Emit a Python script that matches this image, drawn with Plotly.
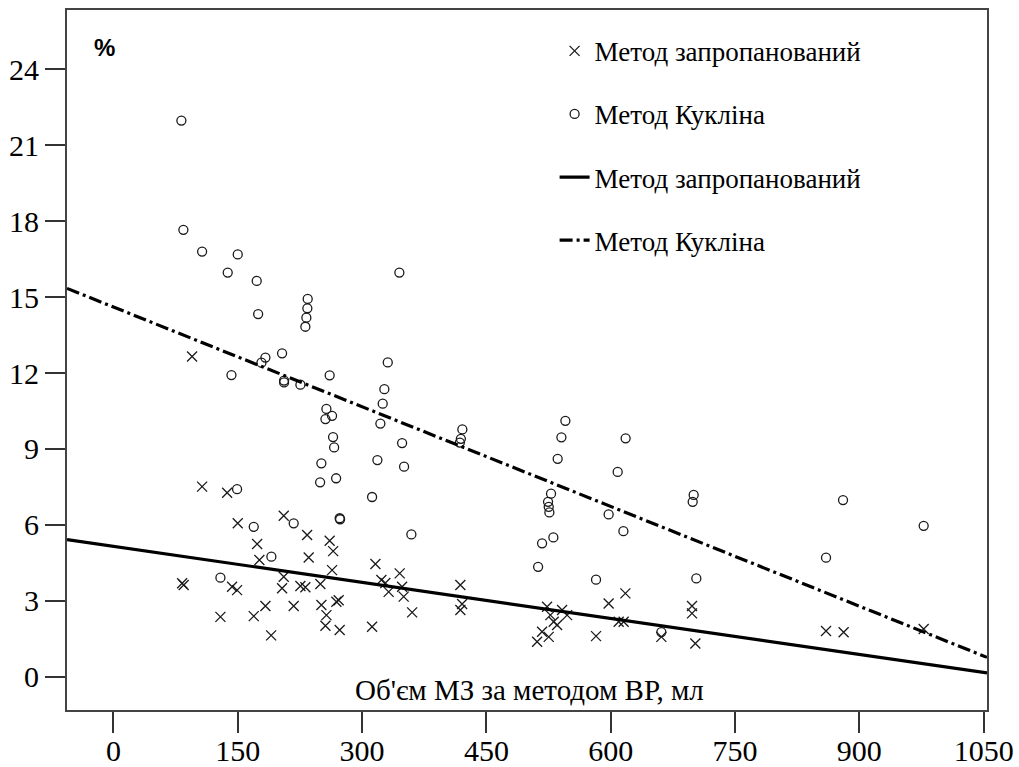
import numpy as np
import plotly.graph_objects as go

# ---- data ----
# Метод запропанований (crosses)
prop_x = [94.9, 107.0, 137.2, 150.0, 205.5, 233.7, 260.9, 265.1, 173.4, 235.6,
          176.1, 316.1, 263.8, 82.9, 84.8, 143.2, 149.2, 129.1, 169.3, 183.4,
          190.3, 205.5, 203.5, 217.5, 225.6, 231.6, 249.7, 250.9, 257.0, 255.8,
          271.8, 269.0, 273.0, 312.1, 323.3, 328.1, 332.1, 345.4, 348.3, 350.2,
          360.4, 418.6, 420.7, 418.6, 523.2, 527.2, 531.2, 535.3, 541.3, 547.4,
          517.2, 511.2, 525.2, 597.5, 617.7, 582.3, 609.6, 615.6, 661.1, 698.1,
          698.1, 702.1, 859.8, 881.0, 977.6]
prop_y = [12.65, 7.51, 7.27, 6.06, 6.36, 5.60, 5.37, 4.96, 5.24, 4.71,
          4.61, 4.45, 4.21, 3.69, 3.62, 3.55, 3.42, 2.36, 2.39, 2.79,
          1.63, 3.95, 3.49, 2.79, 3.58, 3.53, 3.66, 2.83, 2.43, 2.01,
          3.02, 2.96, 1.84, 1.97, 3.82, 3.70, 3.35, 4.08, 3.55, 3.16,
          2.54, 3.62, 2.87, 2.63, 2.76, 2.43, 2.17, 2.04, 2.63, 2.43,
          1.77, 1.38, 1.57, 2.89, 3.29, 1.60, 2.17, 2.17, 1.57, 2.79,
          2.50, 1.31, 1.80, 1.75, 1.88]

# Метод Кукліна (circles)
kuk_x = [82.0, 84.4, 107.0, 150.0, 137.9, 172.9, 174.6, 234.4, 234.0, 232.8,
         231.6, 345.0, 142.4, 183.4, 178.6, 203.5, 260.9, 205.9, 205.9, 225.6,
         257.0, 263.8, 255.8, 265.0, 266.3, 250.9, 249.4, 268.7, 312.1, 322.1,
         326.9, 324.9, 331.0, 318.5, 348.3, 350.7, 149.2, 169.3, 217.5, 190.6,
         273.0, 273.5, 129.1, 359.5, 421.0, 418.0, 419.2, 545.3, 540.5, 536.0,
         618.0, 608.4, 528.0, 524.4, 525.2, 526.0, 517.2, 530.8, 512.4, 597.5,
         615.3, 582.3, 700.1, 698.9, 703.3, 661.1, 880.3, 977.6, 859.8]
kuk_y = [21.98, 17.66, 16.80, 16.69, 15.97, 15.64, 14.33, 14.93, 14.56, 14.19,
         13.83, 15.97, 11.92, 12.61, 12.41, 12.78, 11.91, 11.70, 11.63, 11.54,
         10.58, 10.31, 10.18, 9.47, 9.06, 8.43, 7.68, 7.84, 7.10, 10.00,
         11.36, 10.79, 12.42, 8.56, 9.23, 8.30, 7.41, 5.92, 6.06, 4.74,
         6.26, 6.22, 3.91, 5.62, 9.77, 9.25, 9.40, 10.11, 9.46, 8.61,
         9.42, 8.09, 7.23, 6.91, 6.71, 6.49, 5.27, 5.50, 4.34, 6.41,
         5.75, 3.83, 7.18, 6.91, 3.88, 1.76, 6.98, 5.96, 4.70]

# fitted regression lines (intercept, slope)
prop_fit = (5.15, -0.00475)
kuk_fit = (14.61, -0.01314)

x_ticks = [0, 150, 300, 450, 600, 750, 900, 1050]
y_ticks = [0, 3, 6, 9, 12, 15, 18, 21, 24]
x_range = [-56, 1054]
y_range = [-1.32, 26.35]

label_prop = "Метод запропанований"
label_kuk = "Метод Кукліна"
x_title = "Об'єм МЗ за методом ВР, мл"
y_title = "%"

SERIF = "'Liberation Serif', 'Times New Roman', Tinos, 'DejaVu Serif', serif"
INK = "#1a1a1a"

fx = np.array(x_range, dtype=float)

fig = go.Figure()
fig.add_trace(go.Scatter(
    x=prop_x, y=prop_y, mode="markers", name=label_prop, legendgroup="a",
    marker=dict(symbol="x-thin-open", size=10, color=INK, line=dict(width=1.3, color=INK)),
))
fig.add_trace(go.Scatter(
    x=kuk_x, y=kuk_y, mode="markers", name=label_kuk, legendgroup="b",
    marker=dict(symbol="circle-open", size=9, color=INK, line=dict(width=1.3, color=INK)),
))
fig.add_trace(go.Scatter(
    x=fx, y=prop_fit[0] + prop_fit[1] * fx, mode="lines", name=label_prop, legendgroup="c",
    line=dict(color="black", width=3.2),
))
fig.add_trace(go.Scatter(
    x=fx, y=kuk_fit[0] + kuk_fit[1] * fx, mode="lines", name=label_kuk, legendgroup="d",
    line=dict(color="black", width=3.2, dash="13px,4px,3px,4px"),
))

fig.update_layout(
    width=1019, height=767,
    margin=dict(l=67, r=32, t=10, b=57, autoexpand=False),
    paper_bgcolor="white", plot_bgcolor="white",
    font=dict(family=SERIF, color="black", size=24),
    showlegend=True,
    legend=dict(
        x=0.53, y=0.976, xanchor="left", yanchor="top",
        bgcolor="rgba(0,0,0,0)", borderwidth=0,
        font=dict(family=SERIF, size=27, color="black"),
        tracegroupgap=25, itemwidth=30,
    ),
    xaxis=dict(
        range=x_range, tickmode="array", tickvals=x_ticks,
        ticktext=[str(v) for v in x_ticks],
        showgrid=False, zeroline=False, automargin=False,
        showline=True, linecolor="#444", linewidth=2, mirror=True,
        ticks="outside", ticklen=21, tickwidth=2, tickcolor="#333",
        ticklabelstandoff=-8,
        tickfont=dict(family=SERIF, size=30, color="black"),
    ),
    yaxis=dict(
        range=y_range, tickmode="array", tickvals=y_ticks,
        ticktext=[str(v) for v in y_ticks],
        showgrid=False, zeroline=False, automargin=False,
        showline=True, linecolor="#444", linewidth=2, mirror=True,
        ticks="outside", ticklen=20, tickwidth=2, tickcolor="#333",
        tickfont=dict(family=SERIF, size=30, color="black"),
    ),
    annotations=[
        dict(text=x_title, xref="paper", yref="paper", x=0.503, y=0.029,
             xanchor="center", yanchor="middle", showarrow=False,
             font=dict(family=SERIF, size=29, color="black")),
        dict(text="<b>" + y_title + "</b>", xref="paper", yref="paper", x=0.041, y=0.946,
             xanchor="center", yanchor="middle", showarrow=False,
             font=dict(family="'Liberation Sans', Arial, sans-serif", size=24, color="black")),
    ],
)

fig.write_html("out.html")
